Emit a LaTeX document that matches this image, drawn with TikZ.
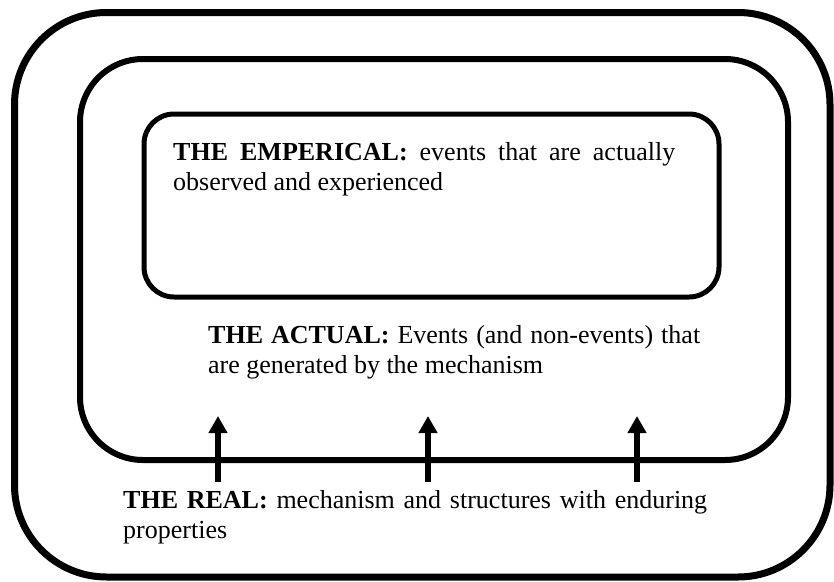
\documentclass[tikz,border=0pt]{standalone}
\usepackage{fontspec}
\setmainfont{Liberation Serif}
\usetikzlibrary{arrows.meta}
\hyphenpenalty=10000
\exhyphenpenalty=10000
\begin{document}
\begin{tikzpicture}[x=1pt,y=-1pt,
  layerbox/.style={draw=black,line join=round},
  layertext/.style={anchor=base west,inner sep=0pt,align=justify,
    font=\fontsize{26}{30}\selectfont},
  uparrow/.style={draw=black,line width=6pt,-{Triangle[width=18pt,length=17pt]}}]
\useasboundingbox (0,0) rectangle (834,581);
\fill[white] (0,0) rectangle (834,581);

% nested layers: real, actual, empirical
\draw[layerbox,line width=7pt,rounded corners=92pt] (14.5,12.5) rectangle (830,577);
\draw[layerbox,line width=6pt,rounded corners=63pt] (80,59) rectangle (788,460);
\draw[layerbox,line width=5pt,rounded corners=30pt] (144,114) rectangle (719,297);

% labels
\node[layertext,text width=502pt] (emp) at (173,160)
  {\textbf{THE EMPERICAL:} events that are actually observed and experienced};
\node[layertext,text width=492pt] (act) at (208,343)
  {\textbf{THE ACTUAL:} Events (and non-events) that are generated by the mechanism};
\node[layertext,text width=584pt] (real) at (123,508)
  {\textbf{THE REAL:} mechanism and structures with enduring properties};

% generative arrows from the real into the actual
\coordinate (s1) at (218,482); \coordinate (t1) at (218,416);
\coordinate (s2) at (428,482); \coordinate (t2) at (428,416);
\coordinate (s3) at (637,482); \coordinate (t3) at (637,416);
\draw[uparrow] (s1) -- (t1);
\draw[uparrow] (s2) -- (t2);
\draw[uparrow] (s3) -- (t3);
\end{tikzpicture}
\end{document}
